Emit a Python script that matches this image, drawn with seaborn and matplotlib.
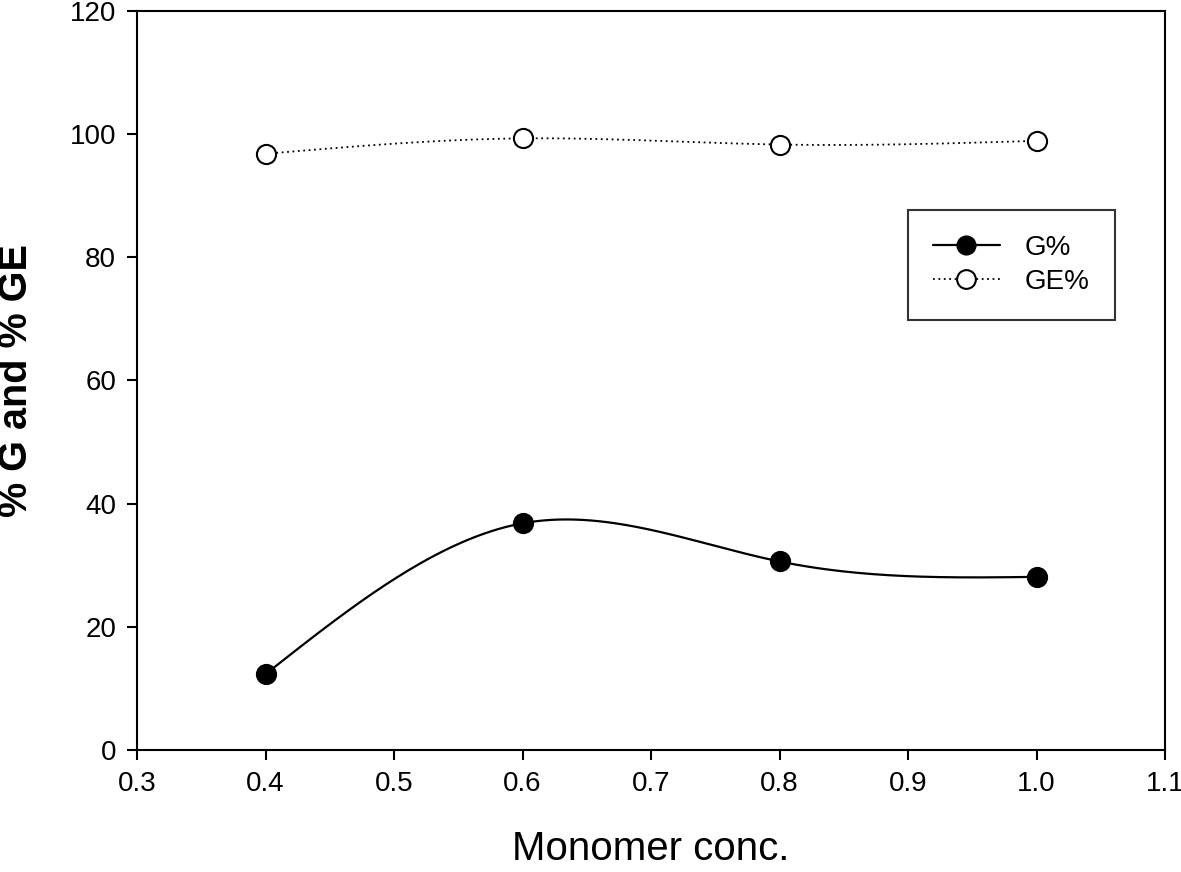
import numpy as np
import pandas as pd
import matplotlib
matplotlib.use("Agg")
import matplotlib.pyplot as plt
from matplotlib.lines import Line2D
import seaborn as sns

# ---- data ----
monomer_conc = [0.4, 0.6, 0.8, 1.0]
g_percent = [12.3, 36.8, 30.6, 28.1]
ge_percent = [96.8, 99.3, 98.3, 98.9]
x_ticks = [0.3, 0.4, 0.5, 0.6, 0.7, 0.8, 0.9, 1.0, 1.1]
y_ticks = [0, 20, 40, 60, 80, 100, 120]


def natural_spline(x, y, n=200):
    x = np.asarray(x, float)
    y = np.asarray(y, float)
    k = len(x)
    h = np.diff(x)
    A = np.zeros((k, k))
    b = np.zeros(k)
    A[0, 0] = A[-1, -1] = 1
    for i in range(1, k - 1):
        A[i, i - 1] = h[i - 1]
        A[i, i] = 2 * (h[i - 1] + h[i])
        A[i, i + 1] = h[i]
        b[i] = 6 * ((y[i + 1] - y[i]) / h[i] - (y[i] - y[i - 1]) / h[i - 1])
    M = np.linalg.solve(A, b)
    xs = np.linspace(x[0], x[-1], n)
    idx = np.clip(np.searchsorted(x, xs) - 1, 0, k - 2)
    x0, x1 = x[idx], x[idx + 1]
    hh = x1 - x0
    t0 = x1 - xs
    t1 = xs - x0
    ys = (M[idx] * t0 ** 3 / (6 * hh) + M[idx + 1] * t1 ** 3 / (6 * hh)
          + (y[idx] / hh - M[idx] * hh / 6) * t0
          + (y[idx + 1] / hh - M[idx + 1] * hh / 6) * t1)
    return xs, ys


sns.set_theme(style="ticks")
plt.rcParams['font.family'] = ['Liberation Sans', 'DejaVu Sans']
plt.rcParams['text.color'] = 'black'
plt.rcParams['axes.labelcolor'] = 'black'

fig = plt.figure(figsize=(11.81, 8.72), dpi=100)
ax = fig.add_axes([0.116, 0.140, 0.8705, 0.8475])

gx, gy = natural_spline(monomer_conc, g_percent)
ex, ey = natural_spline(monomer_conc, ge_percent)
sns.lineplot(x=gx, y=gy, ax=ax, color="black", linewidth=1.6, sort=False)
sns.lineplot(x=ex, y=ey, ax=ax, color="black", linewidth=1.3, sort=False)
ax.lines[-1].set_linestyle((0, (1, 2)))

pts = pd.DataFrame({"x": monomer_conc, "g": g_percent, "ge": ge_percent})
sns.scatterplot(data=pts, x="x", y="g", ax=ax, s=190, color="black",
                edgecolor="black", linewidth=1.5, zorder=5)
sns.scatterplot(data=pts, x="x", y="ge", ax=ax, s=190, facecolor="white",
                edgecolor="black", linewidth=1.5, zorder=5)

ax.set_xlim(0.3, 1.1)
ax.set_ylim(0, 120)
ax.set_xticks(x_ticks)
ax.set_xticklabels([f"{v:.1f}" for v in x_ticks])
ax.set_yticks(y_ticks)
ax.tick_params(axis="both", direction="out", length=7, width=1.5,
               labelsize=20, colors="black", labelcolor="black", pad=8)
for sp in ax.spines.values():
    sp.set_linewidth(1.5)
    sp.set_color("black")

ax.set_xlabel("Monomer conc.", fontsize=29, color="black", labelpad=24)
ax.set_ylabel("% G and % GE", fontsize=28.5, fontweight="bold",
              color="black")
ax.yaxis.set_label_coords(-0.099, 0.5)

handles = [
    Line2D([], [], color="black", linewidth=1.6, marker="o", markersize=13.5,
           markerfacecolor="black", markeredgecolor="black"),
    Line2D([], [], color="black", linewidth=1.3, linestyle=(0, (1, 2)),
           marker="o", markersize=13.5, markerfacecolor="white",
           markeredgecolor="black", markeredgewidth=1.5),
]
leg = ax.legend(handles, ["G%", "GE%"], loc="upper left",
                bbox_to_anchor=(0.75, 0.731), fontsize=20, frameon=True,
                fancybox=False, edgecolor="black", handlelength=2.4,
                handletextpad=0.9, borderpad=0.9, labelspacing=0.3,
                borderaxespad=0)
leg.get_frame().set_linewidth(1.5)
for t in leg.get_texts():
    t.set_color("black")

fig.savefig("out.png", dpi=100)
